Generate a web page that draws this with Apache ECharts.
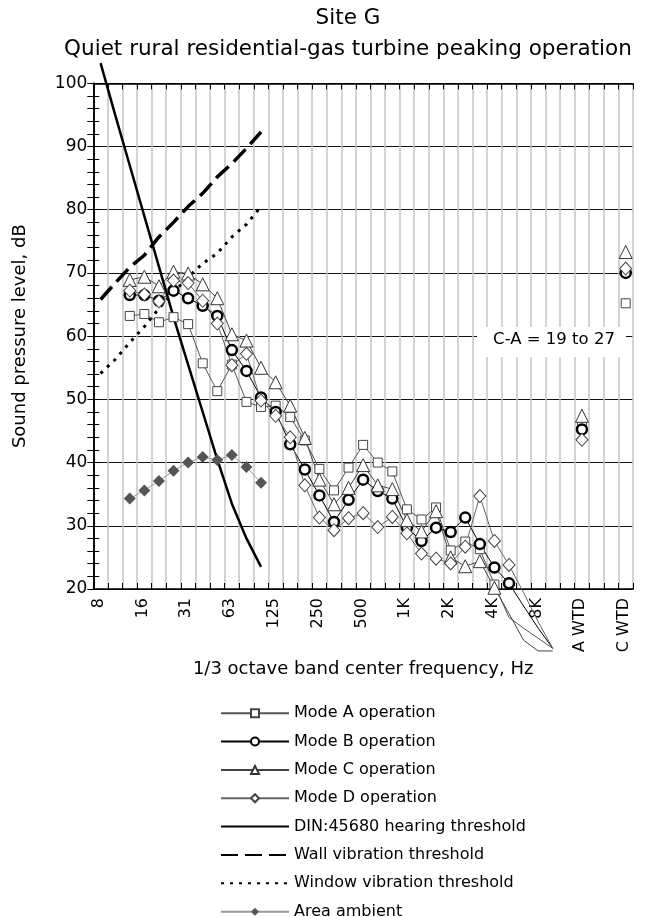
<!DOCTYPE html>
<html><head><meta charset="utf-8">
<script src="https://cdn.jsdelivr.net/npm/echarts@6/dist/echarts.min.js"></script>
<style>html,body{margin:0;padding:0;background:#fff}#c{width:649px;height:917px}</style>
</head><body><div id="c"></div>
<script>
const FONT = 'DejaVu Sans';
// Labels at the 38 vertical grid lines (0..37)
const tickLabels = ['8','','','16','','','31','','','63','','','125','','','250','','','500','','','1K','','','2K','','','4K','','','8K','','','A WTD','','','C WTD',''];
// Band slots (data sit in the middle of each slot)
const slots = ['8','10','12.5','16','20','25','31.5','40','50','63','80','100','125','160','200','250','315','400','500','630','800','1K','1.25K','1.6K','2K','2.5K','3.15K','4K','5K','6.3K','8K','10K','','A WTD','','','C WTD'];
const modeA = [null,null,63.2,63.5,62.2,63.0,61.9,55.7,51.3,55.5,49.6,48.8,49.0,47.2,43.5,39.0,35.6,39.2,42.8,40.0,38.6,32.6,31.0,32.9,26.1,27.5,26.3,20.7,15.5,13.8,12.2,10.6,null,45.8,null,null,65.2];
const modeB = [null,null,66.5,66.5,65.6,67.2,66.0,64.8,63.2,57.8,54.5,50.3,48.0,42.9,38.9,34.8,30.6,34.1,37.3,35.5,34.3,29.7,27.6,29.7,29.0,31.3,27.1,23.4,20.9,17.3,13.8,10.6,null,45.25,null,null,70.0];
const modeC = [null,null,68.9,69.4,67.9,70.2,69.9,68.2,66.0,60.3,59.3,55.0,52.7,49.0,43.9,37.3,33.4,36.0,39.6,36.4,35.8,30.9,29.1,32.3,25.0,23.6,24.4,20.2,16.1,11.9,10.2,10.2,null,47.4,null,null,73.3];
const modeD = [null,null,67.2,66.6,65.5,68.8,68.4,65.6,62.0,55.4,57.2,49.8,47.4,44.0,36.4,31.3,29.3,31.2,32.0,29.8,31.4,28.8,25.6,24.8,24.05,26.7,34.7,27.6,23.8,19.4,14.8,10.6,null,43.6,null,null,70.7];
const ambient = [null,null,34.3,35.6,37.1,38.7,40.0,40.9,40.4,41.2,39.3,36.8];
const dinThreshold = [103.2,95,87,79,71,63,55.5,48,40.5,33.5,28,23.5];
const wallThreshold = [65.8,68.4,70.9,72.8,75.7,78.0,80.5,82.6,85.2,87.3,89.7,92.3];
const windowThreshold = [54.1,56.3,59.0,61.5,64.4,67.0,69.3,71.5,73.1,75.7,77.7,80.5];
const yTicks = {min: 20, max: 100, step: 10, minorStep: 2};
const noteText = 'C-A = 19 to 27';

function toData(arr) {
  return arr.map((v, i) => {
    if (v == null) return [i + 0.5, '-'];
    if (v < yTicks.min) return {value: [i + 0.5, v], symbol: 'none'};
    return [i + 0.5, v];
  });
}

const base = {type: 'line', clip: false, showAllSymbol: true, connectNulls: false, animation: false};
const series = [
  Object.assign({}, base, {name: 'Mode A operation', data: toData(modeA), symbol: 'rect', symbolSize: 9,
    lineStyle: {color: '#555', width: 1}, itemStyle: {color: '#fff', borderColor: '#444', borderWidth: 1}}),
  Object.assign({}, base, {name: 'Mode B operation', data: toData(modeB), symbol: 'circle', symbolSize: 10,
    lineStyle: {color: '#000', width: 1}, itemStyle: {color: '#fff', borderColor: '#000', borderWidth: 2.5}}),
  Object.assign({}, base, {name: 'Mode C operation', data: toData(modeC), symbol: 'triangle', symbolSize: 13,
    lineStyle: {color: '#444', width: 1}, itemStyle: {color: '#fff', borderColor: '#333', borderWidth: 1}}),
  Object.assign({}, base, {name: 'Mode D operation', data: toData(modeD), symbol: 'diamond', symbolSize: [12, 13],
    lineStyle: {color: '#666', width: 1}, itemStyle: {color: '#fff', borderColor: '#444', borderWidth: 1}}),
  Object.assign({}, base, {name: 'DIN:45680 hearing threshold', data: toData(dinThreshold), symbol: 'none',
    lineStyle: {color: '#000', width: 2.5}, itemStyle: {color: '#000'}}),
  Object.assign({}, base, {name: 'Wall vibration threshold', data: toData(wallThreshold), symbol: 'none',
    lineStyle: {color: '#000', width: 3.5, type: [17, 7]}, itemStyle: {color: '#000'}}),
  Object.assign({}, base, {name: 'Window vibration threshold', data: toData(windowThreshold), symbol: 'none',
    lineStyle: {color: '#000', width: 3, type: [3, 6]}, itemStyle: {color: '#000'}}),
  Object.assign({}, base, {name: 'Area ambient', data: toData(ambient), symbol: 'diamond', symbolSize: 12,
    lineStyle: {color: '#999', width: 1}, itemStyle: {color: '#555', borderWidth: 0}})
];

const legendData = series.map(s => s.symbol === 'none'
  ? {name: s.name, itemStyle: {opacity: 0}}
  : {name: s.name});

const tickOnlyY = (pos) => ({type: 'value', min: yTicks.min, max: yTicks.max, interval: yTicks.minorStep, position: pos,
  axisLine: {show: pos === 'right', lineStyle: {color: '#000', width: 1.5}},
  axisTick: {show: true, inside: true, length: 6, lineStyle: {color: '#000', width: 1}},
  splitLine: {show: false}, axisLabel: {show: false}});

const chart = echarts.init(document.getElementById('c'), null, {renderer: 'canvas'});
chart.setOption({
  animation: false,
  backgroundColor: '#fff',
  textStyle: {fontFamily: FONT},
  title: {text: 'Site G\nQuiet rural residential-gas turbine peaking operation', left: 348, textAlign: 'center', top: 3, padding: 0,
    textStyle: {fontFamily: FONT, fontSize: 21.5, fontWeight: 'normal', color: '#000', lineHeight: 31}},
  grid: {left: 93.3, right: 16, top: 83.3, bottom: 328},
  xAxis: [
    {type: 'value', min: 0, max: slots.length, interval: 1, position: 'bottom',
      axisLine: {lineStyle: {color: '#000', width: 1.5}},
      axisTick: {inside: true, length: 6, lineStyle: {color: '#000', width: 1}},
      splitLine: {show: true, lineStyle: {color: '#c4c4c4', width: 1.5}},
      axisLabel: {rotate: 90, margin: 9, fontSize: 16, color: '#000', fontFamily: FONT,
        verticalAlign: 'top', lineHeight: 11,
        formatter: v => tickLabels[v] || ''},
      name: '1/3 octave band center frequency, Hz', nameLocation: 'middle', nameGap: 67,
      nameTextStyle: {fontSize: 18, color: '#000', fontFamily: FONT}},
    {type: 'value', min: 0, max: slots.length, interval: 1, position: 'top',
      axisLine: {lineStyle: {color: '#000', width: 1.5}},
      axisTick: {inside: true, length: 6, lineStyle: {color: '#000', width: 1}},
      splitLine: {show: false}, axisLabel: {show: false}}
  ],
  yAxis: [
    {type: 'value', min: yTicks.min, max: yTicks.max, interval: yTicks.step, position: 'left',
      axisLine: {show: true, lineStyle: {color: '#000', width: 1.5}},
      axisTick: {show: false},
      splitLine: {show: true, lineStyle: {color: '#111', width: 1.2}},
      axisLabel: {fontSize: 17, color: '#000', margin: 6, fontFamily: FONT},
      name: 'Sound pressure level, dB', nameLocation: 'middle', nameGap: 64,
      nameTextStyle: {fontSize: 18, color: '#000', fontFamily: FONT}},
    tickOnlyY('right'),
    tickOnlyY('left')
  ],
  legend: {orient: 'vertical', left: 220, top: 705.2, height: 222, padding: 0, itemWidth: 68, itemHeight: 10, itemGap: 12.35,
    textStyle: {fontSize: 16, color: '#000', fontFamily: FONT},
    data: legendData},
  graphic: [
    {type: 'rect', shape: {x: 477, y: 327, width: 149, height: 30}, style: {fill: '#fff'}, z: 5},
    {type: 'text', x: 554, y: 339.5, z: 6, style: {text: noteText, fill: '#000', font: '16.5px "DejaVu Sans"', textAlign: 'center', textVerticalAlign: 'middle'}}
  ],
  series: series
});
</script></body></html>
